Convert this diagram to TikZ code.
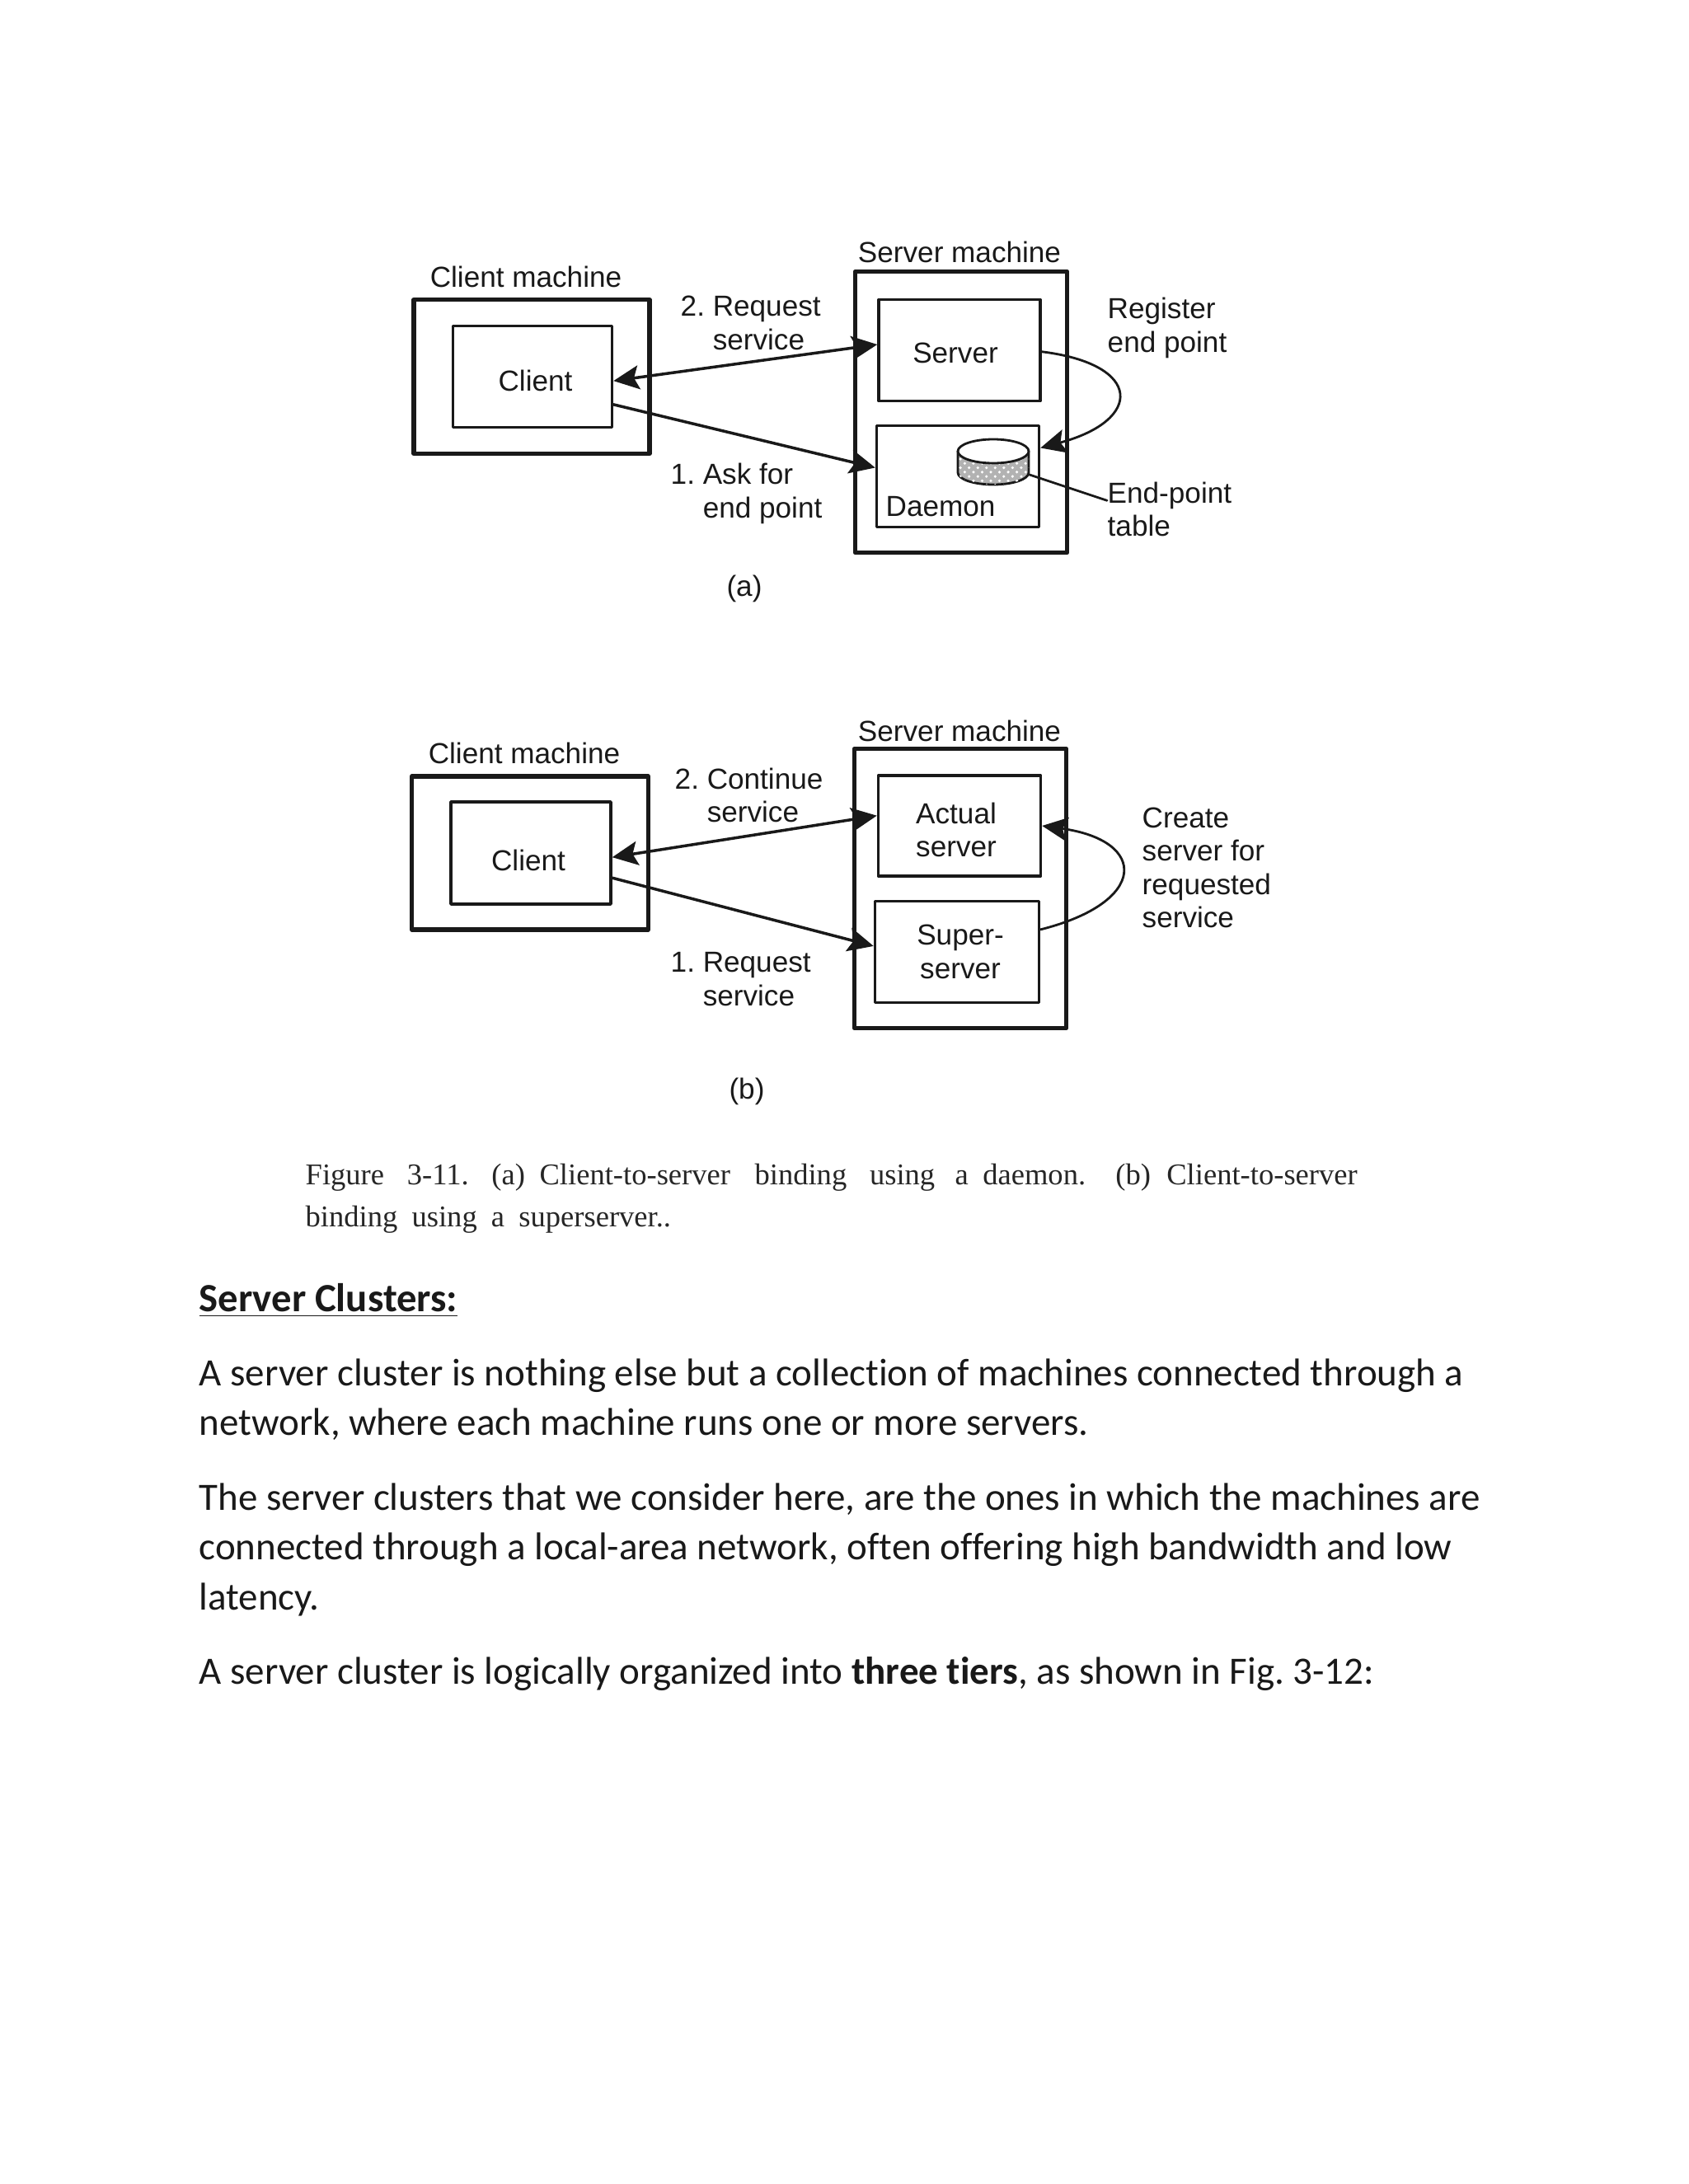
\documentclass[tikz,border=0pt]{standalone}
\usepackage{fontspec}
\setmainfont{Carlito}[Ligatures=NoCommon]
\newfontfamily\labelfont{Liberation Sans}
\newfontfamily\capfont{Liberation Serif}
\usepackage{tikz}
\usetikzlibrary{positioning,arrows.meta,patterns}
\usepackage{xcolor}

\begin{document}
\frenchspacing
\begin{tikzpicture}[
  x=1cm,y=1cm,
  line cap=round,line join=round,
  >={Stealth[length=3.1mm,width=2.9mm,inset=0.6mm]},
  machine/.style={draw=black!90,line width=1.5pt,inner sep=0pt},
  proc/.style={draw=black!90,line width=1pt,inner sep=0pt},
  tag/.style={inner sep=0pt,text=black!90,font=\labelfont\fontsize{10}{11.5}\selectfont,align=left,anchor=west},
  title/.style={inner sep=0pt,text=black!90,font=\labelfont\fontsize{10}{11.5}\selectfont,align=center},
  flow/.style={draw=black!90,line width=1pt},
  loopline/.style={draw=black!90,line width=0.8pt},
  body/.style={inner sep=0pt,anchor=west,align=left,text=black!90,font=\fontsize{13.37}{17.2}\selectfont}
]
  \path[use as bounding box] (0,-26.5) rectangle (20.48,0);

  % part a
  \node[machine,minimum width=2.86cm,minimum height=1.87cm] (clientma) at (6.45,-4.57) {};
  \node[proc,minimum width=1.93cm,minimum height=1.23cm] (clienta) at (6.46,-4.57) {};
  \node[machine,minimum width=2.57cm,minimum height=3.41cm] (serverma) at (11.66,-5.00) {};
  \node[proc,minimum width=1.96cm,minimum height=1.23cm] (servera) at (11.64,-4.25) {};
  \node[proc,minimum width=1.97cm,minimum height=1.23cm] (daemona) at (11.62,-5.78) {};
  \node[title] (clienttexta) at (6.495,-4.62) {Client};
  \node[title] (servertexta) at (11.59,-4.285) {Server};
  \node[tag] (daemontext) at (10.74,-6.15) {Daemon};

  \draw[loopline,fill=black!30] (11.62,-5.475) -- (11.62,-5.735) arc[start angle=180,end angle=360,x radius=0.43,y radius=0.145] -- (12.48,-5.475) -- cycle;
  \fill[pattern=crosshatch dots,pattern color=white] (11.62,-5.475) -- (11.62,-5.735) arc[start angle=180,end angle=360,x radius=0.43,y radius=0.145] -- (12.48,-5.475) -- cycle;
  \draw[loopline,fill=white] (12.05,-5.475) ellipse (0.43 and 0.145);
  \coordinate (disk) at (12.49,-5.76);

  \node[title] (clientnamea) at (6.38,-3.36) {Client machine};
  \node[title] (servernamea) at (11.64,-3.06) {Server machine};
  \node[tag] (reqa) at (8.25,-3.92) {2. Request\\\hphantom{2. }service};
  \node[tag] (aska) at (8.13,-5.99) {1. Ask for\\\hphantom{1. }end point};
  \node[tag] (regend) at (13.43,-3.98) {Register\\end point};
  \node[tag] (endtable) at (13.43,-6.18) {End-point\\table};
  \node[title] (parta) at (9.03,-7.14) {(a)};

  \draw[flow,<->] (clienta.-3.5) -- (servera.176);
  \draw[flow,->] (clienta.-19) -- (daemona.174);
  \draw[loopline,->] (servera.-1) .. controls (13.87,-4.42) and (13.87,-5.10) .. (daemona.19.6);
  \draw[loopline] (disk) -- (endtable.172);

  % part b
  \node[machine,minimum width=2.87cm,minimum height=1.86cm] (clientmb) at (6.43,-10.35) {};
  \node[proc,minimum width=1.94cm,minimum height=1.24cm] (clientb) at (6.44,-10.35) {};
  \node[machine,minimum width=2.57cm,minimum height=3.39cm] (servermb) at (11.65,-10.78) {};
  \node[proc,minimum width=1.97cm,minimum height=1.22cm] (actual) at (11.64,-10.02) {};
  \node[proc,minimum width=1.99cm,minimum height=1.23cm] (super) at (11.61,-11.55) {};
  \node[title] (clienttextb) at (6.41,-10.435) {Client};
  \node[title] (actualtext) at (11.60,-10.07) {Actual\\server};
  \node[title] (supertext) at (11.65,-11.55) {Super-\\server};

  \node[title] (clientnameb) at (6.36,-9.14) {Client machine};
  \node[title] (servernameb) at (11.64,-8.87) {Server machine};
  \node[tag] (contb) at (8.18,-9.65) {2. Continue\\\hphantom{2. }service};
  \node[tag] (reqb) at (8.13,-11.88) {1. Request\\\hphantom{1. }service};
  \node[tag] (create) at (13.85,-10.53) {Create\\server for\\requested\\service};
  \node[title] (partb) at (9.06,-13.24) {(b)};

  \draw[flow,<->] (clientb.-3) -- (actual.173);
  \draw[flow,->] (clientb.-17) -- (super.176);
  \draw[loopline,->] (super.15) .. controls (13.93,-10.95) and (13.93,-10.20) .. (actual.0);

  % caption
  \node[inner sep=0pt,anchor=west,text width=12.76cm,align=justify,text=black!85,
    font=\capfont\fontsize{10.4}{14.5}\selectfont] (caption) at (3.70,-14.54)
    {\spaceskip=0.47em plus 1em Figure \hspace{1pt}3-11. \hspace{1pt}(a) \hspace{-1.9pt}Client-to-server \hspace{1.5pt}binding \hspace{1pt}using a \hspace{-1.9pt}daemon. \hspace{3.4pt}(b) \hspace{-1.4pt}Client-to-server binding using a superserver..};

  % text below
  \node[body,font=\fontsize{13.85}{17.2}\selectfont] (heading) at (2.41,-15.78) {\underline{\textbf{Server Clusters:}}};
  \node[body] (parone) at (2.41,-16.98) {A server cluster is nothing else but a collection of machines connected through a\\network, where each machine runs one or more servers.};
  \node[body] (partwo) at (2.41,-18.80) {The server clusters that we consider here, are the ones in which the machines are\\connected through a local-area network, often offering high bandwidth and low\\latency.};
  \node[body] (parthree) at (2.41,-20.31) {A server cluster is logically organized into \textbf{three tiers}, as shown in Fig. 3-12:};
\end{tikzpicture}
\end{document}
